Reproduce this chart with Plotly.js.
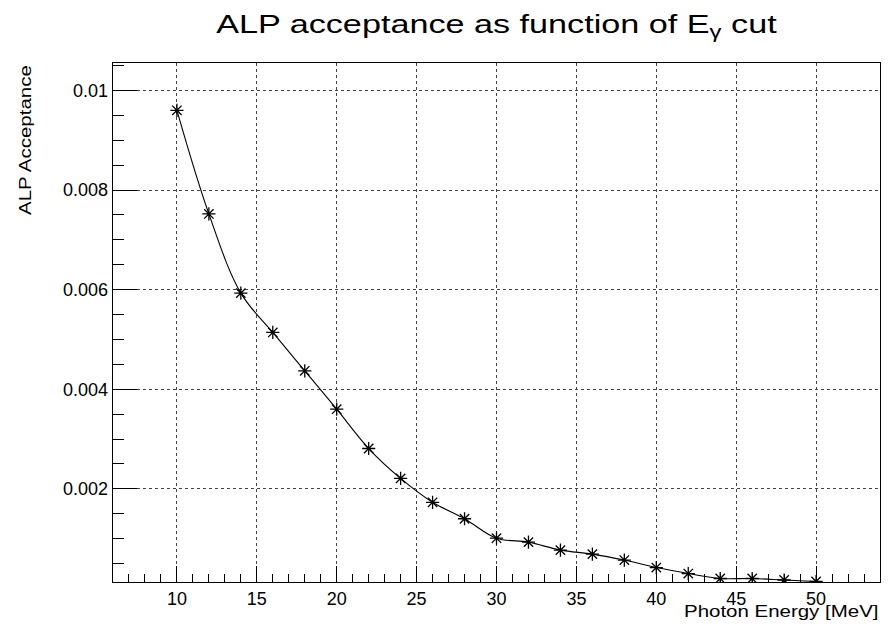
<!DOCTYPE html>
<html>
<head>
<meta charset="utf-8">
<script src="https://cdn.plot.ly/plotly-3.0.1.min.js"></script>
<style>
html,body{margin:0;padding:0;background:#fff;}
#chart{width:893px;height:628px;}
.gtitle{transform-box:fill-box;transform-origin:center;transform:scaleX(1.29);}
.annotation-text{transform-box:fill-box;transform-origin:right center;transform:scaleX(1.28);}
</style>
</head>
<body>
<div id="chart"></div>
<script>
const photonEnergy = [10, 12, 14, 16, 18, 20, 22, 24, 26, 28, 30, 32, 34, 36, 38, 40, 42, 44, 46, 48, 50];
const acceptance = [0.00960, 0.00752, 0.00593, 0.00514, 0.00437, 0.00360, 0.00281, 0.00221, 0.00173, 0.00140, 0.00101, 0.00093, 0.00077, 0.00069, 0.00057, 0.00042, 0.00030, 0.00020, 0.00020, 0.00017, 0.00014];
const xTickVals = [10, 15, 20, 25, 30, 35, 40, 45, 50];
const yTickVals = [0.002, 0.004, 0.006, 0.008, 0.01];
const yTickText = ["0.002", "0.004", "0.006", "0.008", "0.01"];

const trace = {
  x: photonEnergy,
  y: acceptance,
  type: 'scatter',
  mode: 'lines+markers',
  line: {color: '#000', width: 1.1, shape: 'spline', smoothing: 1},
  marker: {symbol: 'asterisk-open', size: 11, color: '#000', line: {color: '#000', width: 1.3}},
  hoverinfo: 'x+y'
};

const font = 'Liberation Sans, Arial, Helvetica, sans-serif';
const layout = {
  width: 893, height: 628,
  paper_bgcolor: '#fff', plot_bgcolor: '#fff',
  margin: {l: 113, r: 13, t: 63, b: 46},
  showlegend: false,
  font: {family: font, color: '#000', size: 18},
  title: {
    text: 'ALP acceptance as function of E<sub>γ</sub> cut',
    font: {family: font, size: 26.5, color: '#000'},
    x: 0.5, xanchor: 'center', xref: 'paper',
    y: 0.9626, yanchor: 'middle', yref: 'container'
  },
  xaxis: {
    range: [6, 54],
    tickvals: xTickVals,
    ticks: 'inside', ticklen: 16, tickwidth: 1, tickcolor: '#000',
    minor: {dtick: 1, tick0: 0, ticks: 'inside', ticklen: 8, tickcolor: '#000', tickwidth: 1, showgrid: false},
    showline: true, linecolor: '#000', linewidth: 1.3, mirror: true,
    showgrid: true, gridcolor: '#444', griddash: 'dot', gridwidth: 1,
    zeroline: false,
    tickfont: {family: font, size: 18, color: '#000'}
  },
  yaxis: {
    range: [0.00013, 0.01055],
    tickvals: yTickVals, ticktext: yTickText,
    ticks: 'inside', ticklen: 24, tickwidth: 1, tickcolor: '#000',
    minor: {dtick: 0.0005, tick0: 0, ticks: 'inside', ticklen: 11, tickcolor: '#000', tickwidth: 1, showgrid: false},
    showline: true, linecolor: '#000', linewidth: 1.3, mirror: true,
    showgrid: true, gridcolor: '#444', griddash: 'dot', gridwidth: 1,
    zeroline: false,
    tickfont: {family: font, size: 18, color: '#000'}
  },
  annotations: [
    {text: 'Photon Energy [MeV]', xref: 'paper', yref: 'paper', x: 1, y: 0, xanchor: 'right', yanchor: 'top',
     yshift: -18, showarrow: false, font: {family: font, size: 16, color: '#000'}},
    {text: 'ALP Acceptance', xref: 'paper', yref: 'paper', x: 0, y: 1, xanchor: 'center', yanchor: 'top',
     xshift: -88, textangle: -90, showarrow: false, font: {family: font, size: 16, color: '#000'}}
  ]
};

Plotly.newPlot('chart', [trace], layout, {displayModeBar: false, staticPlot: true});
</script>
</body>
</html>
